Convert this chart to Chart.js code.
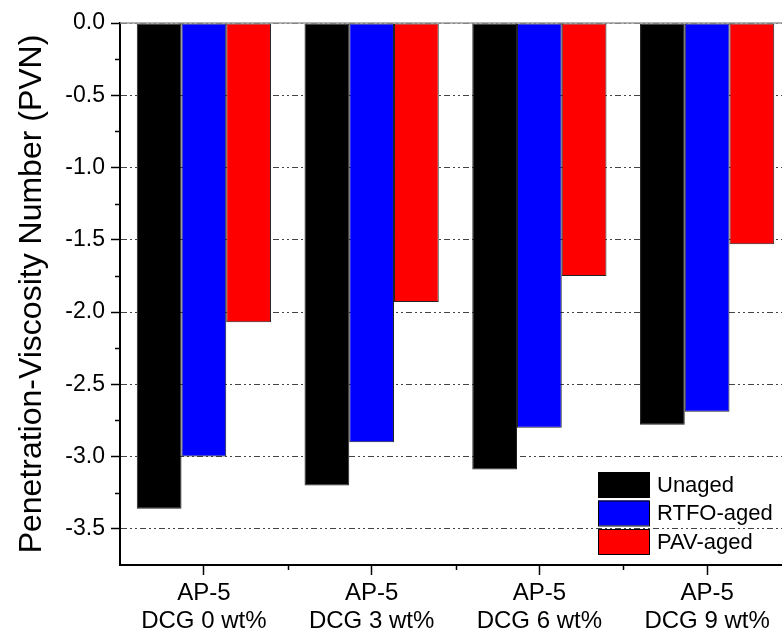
<!DOCTYPE html>
<html>
<head>
<meta charset="utf-8">
<script src="https://cdn.jsdelivr.net/npm/chart.js@4.4.1/dist/chart.umd.min.js"></script>
<style>
  html, body { margin: 0; padding: 0; background: #fff; overflow: hidden; }
  #wrap { width: 800px; height: 637px; }
</style>
</head>
<body>
<div id="wrap"><canvas id="pvn" width="800" height="637"></canvas></div>
<script>
// ─── DATA ─────────────────────────────────────────────────────────────────────
const categories = [
  ['AP-5', 'DCG 0 wt%'],
  ['AP-5', 'DCG 3 wt%'],
  ['AP-5', 'DCG 6 wt%'],
  ['AP-5', 'DCG 9 wt%']
];
const unaged = [-3.36, -3.20, -3.09, -2.78];
const rtfoAged = [-3.00, -2.90, -2.80, -2.69];
const pavAged = [-2.07, -1.93, -1.75, -1.53];
const yTicks = [0, -0.5, -1.0, -1.5, -2.0, -2.5, -3.0, -3.5];
const yMinorTicks = [-0.25, -0.75, -1.25, -1.75, -2.25, -2.75, -3.25];
const yTitle = 'Penetration-Viscosity Number (PVN)';

const FONT = 'Liberation Sans, Arial, sans-serif';

// ─── PLUGINS ──────────────────────────────────────────────────────────────────

// minor ticks, solid top line, rotated y title
const axisExtras = {
  id: 'axisExtras',
  afterDatasetsDraw(chart) {
    const { ctx, chartArea, scales } = chart;
    ctx.save();
    ctx.strokeStyle = '#999';
    ctx.lineWidth = 1.5;
    ctx.beginPath();
    ctx.moveTo(chartArea.left, chartArea.top);
    ctx.lineTo(chartArea.right, chartArea.top);
    ctx.stroke();

    ctx.strokeStyle = '#000';
    ctx.lineWidth = 1.5;
    ctx.beginPath();
    yMinorTicks.forEach(v => {
      const y = Math.round(scales.y.getPixelForValue(v)) + 0.5;
      ctx.moveTo(chartArea.left, y);
      ctx.lineTo(chartArea.left - 5, y);
    });
    const step = (chartArea.right - chartArea.left) / categories.length;
    for (let i = 1; i < categories.length; i++) {
      const x = Math.round(chartArea.left + step * i) + 0.5;
      ctx.moveTo(x, chartArea.bottom);
      ctx.lineTo(x, chartArea.bottom + 5);
    }
    ctx.stroke();

    // y title
    ctx.translate(41, (chartArea.top + chartArea.bottom) / 2);
    ctx.rotate(-Math.PI / 2);
    ctx.font = '32px ' + FONT;
    ctx.fillStyle = '#000';
    ctx.textAlign = 'center';
    ctx.textBaseline = 'alphabetic';
    ctx.fillText(yTitle, 0, 0);
    ctx.restore();
  }
};

// boxed legend inside the plot
const boxLegend = {
  id: 'boxLegend',
  afterDraw(chart) {
    const { ctx } = chart;
    const x0 = 598, y0 = 472, w = 51, h = 25, pitch = 28.5;
    ctx.save();
    ctx.font = '22px ' + FONT;
    ctx.textBaseline = 'middle';
    ctx.textAlign = 'left';
    chart.data.datasets.forEach((ds, i) => {
      const y = y0 + i * pitch;
      ctx.fillStyle = ds.backgroundColor;
      ctx.fillRect(x0, y, w, h);
      ctx.strokeStyle = '#000';
      ctx.lineWidth = 1;
      ctx.strokeRect(x0 + 0.5, y + 0.5, w, h);
      ctx.fillStyle = '#000';
      ctx.fillText(ds.label, x0 + w + 8, y + h / 2 + 1);
    });
    ctx.restore();
  }
};

// ─── CHART ────────────────────────────────────────────────────────────────────
new Chart(document.getElementById('pvn').getContext('2d'), {
  type: 'bar',
  data: {
    labels: categories,
    datasets: [
      { label: 'Unaged', data: unaged, backgroundColor: '#000000' },
      { label: 'RTFO-aged', data: rtfoAged, backgroundColor: '#0000ff' },
      { label: 'PAV-aged', data: pavAged, backgroundColor: '#ff0000' }
    ]
  },
  options: {
    responsive: false,
    animation: false,
    layout: { padding: { top: 23, right: 9, left: 0, bottom: 0 } },
    datasets: {
      bar: {
        categoryPercentage: 0.8,
        barPercentage: 1.0,
        borderColor: '#222',
        borderWidth: 1,
        borderSkipped: false
      }
    },
    plugins: {
      legend: { display: false },
      tooltip: { enabled: false }
    },
    scales: {
      x: {
        offset: true,
        afterFit: s => { s.height = 72; },
        border: { color: '#000', width: 2 },
        grid: {
          offset: false,
          drawOnChartArea: false,
          tickLength: 10,
          tickColor: '#000',
          tickWidth: 1.5
        },
        ticks: {
          color: '#000',
          padding: 4,
          maxRotation: 0,
          autoSkip: false,
          font: { family: FONT, size: 24, lineHeight: 1.17 }
        }
      },
      y: {
        min: -3.75,
        max: 0,
        afterFit: s => { s.width = 120; },
        afterBuildTicks: s => { s.ticks = yTicks.map(v => ({ value: v })); },
        border: { color: '#000', width: 2, dash: [6, 3, 2, 3, 2, 3] },
        grid: {
          color: '#444',
          lineWidth: 1,
          tickLength: 9,
          tickColor: '#000',
          tickWidth: 1.5,
          tickBorderDash: []
        },
        ticks: {
          color: '#000',
          padding: 6,
          font: { family: FONT, size: 23 },
          callback: v => Number(v).toFixed(1)
        }
      }
    }
  },
  plugins: [axisExtras, boxLegend]
});
</script>
</body>
</html>
